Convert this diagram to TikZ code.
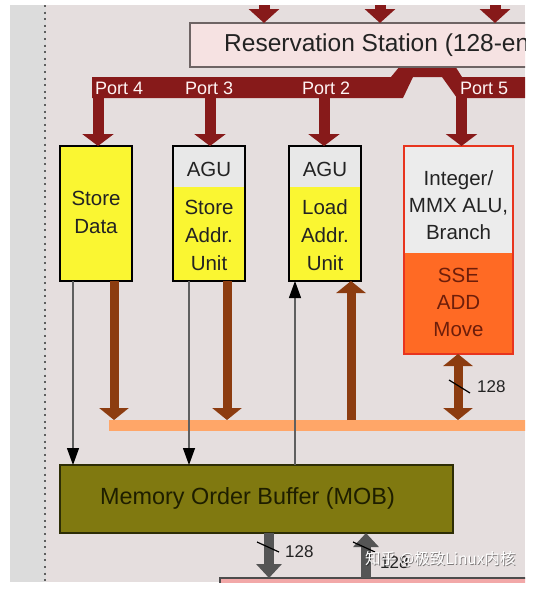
\documentclass[tikz,border=0pt]{standalone}
\usepackage{fontspec}
\setmainfont{Liberation Sans}
\newfontfamily\cjkfont{Noto Sans CJK SC}
\usetikzlibrary{arrows.meta}

\definecolor{bgmain}{RGB}{229,222,222}
\definecolor{bgleft}{RGB}{220,220,220}
\definecolor{portred}{RGB}{135,26,26}
\definecolor{rsfill}{RGB}{246,226,226}
\definecolor{rsline}{RGB}{110,100,100}
\definecolor{yel}{RGB}{250,246,50}
\definecolor{agugray}{RGB}{232,232,232}
\definecolor{intred}{RGB}{232,52,30}
\definecolor{intgray}{RGB}{236,236,236}
\definecolor{sseor}{RGB}{255,106,36}
\definecolor{ssetext}{RGB}{110,30,10}
\definecolor{brownarr}{RGB}{140,60,16}
\definecolor{orbus}{RGB}{255,166,104}
\definecolor{mobfill}{RGB}{128,121,16}
\definecolor{mobline}{RGB}{45,45,5}
\definecolor{mobtext}{RGB}{30,30,0}
\definecolor{grayarr}{RGB}{85,85,85}
\definecolor{thinline}{RGB}{95,95,95}
\definecolor{pinkbox}{RGB}{242,168,168}
\definecolor{txtdark}{RGB}{35,35,35}
\definecolor{dotc}{RGB}{95,95,95}

\begin{document}
\begin{tikzpicture}[x=1pt,y=-1pt,
  part/.style={draw=none, inner sep=0pt, outer sep=0pt},
  ybox/.style={fill=yel, draw=black, line width=1.8pt, inner sep=0pt, outer sep=0pt},
  outline/.style={draw=black, line width=1.8pt, inner sep=0pt, outer sep=0pt},
  boxtxt/.style={inner sep=0pt, align=center, text=txtdark, font=\fontsize{20.5}{28}\selectfont},
  inttxt/.style={inner sep=0pt, align=center, text=txtdark, font=\fontsize{20.5}{27}\selectfont},
  portlbl/.style={inner sep=0pt, anchor=west, text=white!96!red, font=\fontsize{18}{20}\selectfont},
  portarrow/.style={draw=portred, line width=11pt, -{Triangle[width=31pt,length=12pt]}},
  toparrow/.style={draw=portred, line width=11pt, -{Triangle[width=30pt,length=14pt]}},
  brownarrow/.style={draw=brownarr, line width=9pt, -{Triangle[width=29pt,length=12pt]}},
  browndouble/.style={draw=brownarr, line width=9pt, {Triangle[width=29pt,length=12pt]}-{Triangle[width=29pt,length=12pt]}},
  thinarrow/.style={draw=thinline, line width=1.3pt, -{Triangle[width=12pt,length=17pt,color=black]}},
  grayarrow/.style={draw=grayarr, line width=10pt, -{Triangle[width=25pt,length=14pt]}},
  slash/.style={draw=black, line width=1.2pt},
  numlbl/.style={inner sep=0pt, text=txtdark, font=\fontsize{17}{20}\selectfont},
]
\useasboundingbox (0,0) rectangle (533,589);
\fill[white] (0,0) rectangle (533,589);
\begin{scope}
\clip (10,5) rectangle (525,582);
\fill[bgleft] (10,5) rectangle (46,582);
\fill[bgmain] (46,5) rectangle (525,582);
\draw[dotc, line width=2pt, dash pattern=on 2pt off 4.6pt] (45,5) -- (45,582);

% port bus
\fill[portred] (92,77) -- (391,77) -- (400,66) -- (455,66) -- (462,77) -- (525,77)
  -- (525,98) -- (457,98) -- (442,77) -- (413,77) -- (403,98) -- (92,98) -- cycle;

% Reservation station
\node[part, fill=rsfill, draw=rsline, line width=1.5pt, minimum width=420pt, minimum height=44pt, anchor=north west] (rs) at (190,23) {};
\node[anchor=west, inner sep=0pt, text=txtdark, font=\fontsize{24.5}{28}\selectfont] (rst) at (224,45) {Reservation Station (128-entry)};

% arrows into RS
\coordinate (t1) at (264,0);
\coordinate (t2) at (380,0);
\coordinate (t3) at (495,0);
\draw[toparrow] (t1) -- (t1 |- rs.north);
\draw[toparrow] (t2) -- (t2 |- rs.north);
\draw[toparrow] (t3) -- (t3 |- rs.north);

% Store Data
\node[ybox, minimum width=72pt, minimum height=135pt] (sd) at (96,213.5) {};
\node[boxtxt] (sdt) at (96,212.5) {Store\\Data};

% Store Addr
\node[part, fill=agugray, minimum width=72pt, minimum height=41pt, anchor=north] (saagu) at (209,146) {};
\node[part, fill=yel, minimum width=72pt, minimum height=94pt, anchor=north] (saunit) at (209,187) {};
\node[outline, minimum width=72pt, minimum height=135pt] (sa) at (209,213.5) {};
\node[boxtxt] (saagut) at (209,169) {AGU};
\node[boxtxt] (saut) at (209,235) {Store\\Addr.\\Unit};

% Load Addr
\node[part, fill=agugray, minimum width=72pt, minimum height=41pt, anchor=north] (laagu) at (325,146) {};
\node[part, fill=yel, minimum width=72pt, minimum height=94pt, anchor=north] (launit) at (325,187) {};
\node[outline, minimum width=72pt, minimum height=135pt] (la) at (325,213.5) {};
\node[boxtxt] (laagut) at (325,169) {AGU};
\node[boxtxt] (laut) at (325,235) {Load\\Addr.\\Unit};

% Integer / SSE
\node[part, fill=intgray, minimum width=109pt, minimum height=107pt, anchor=north] (intt) at (458.5,146) {};
\node[part, fill=sseor, minimum width=109pt, minimum height=101pt, anchor=north] (intb) at (458.5,253) {};
\node[outline, draw=intred, minimum width=109pt, minimum height=208pt] (int) at (458.5,250) {};
\node[inttxt] (inttt) at (458.5,205) {Integer/\\MMX ALU,\\Branch};
\node[inttxt, text=ssetext] (intbt) at (458.5,302) {SSE\\ADD\\Move};

% port arrows
\coordinate (p4) at (98,90);
\coordinate (p3) at (210,90);
\coordinate (p2) at (324,90);
\coordinate (p5) at (461.5,90);
\draw[portarrow] (p4) -- (p4 |- sd.north);
\draw[portarrow] (p3) -- (p3 |- sa.north);
\draw[portarrow] (p2) -- (p2 |- la.north);
\draw[portarrow] (p5) -- (p5 |- int.north);
\node[portlbl] (l4) at (95,88) {Port 4};
\node[portlbl] (l3) at (185,88) {Port 3};
\node[portlbl] (l2) at (302,88) {Port 2};
\node[portlbl] (l5) at (460,88) {Port 5};

% orange bus
\node[part, fill=orbus, minimum width=430pt, minimum height=11pt, anchor=west] (obus) at (109,425.5) {};

% MOB
\node[part, fill=mobfill, draw=mobline, line width=1.8pt, minimum width=393pt, minimum height=68pt] (mob) at (256.5,499) {};
\node[inner sep=0pt, text=mobtext, font=\fontsize{23.4}{28}\selectfont] (mobt) at (247.5,498) {Memory Order Buffer (MOB)};

% bottom box
\node[part, fill=pinkbox, draw=black!70, line width=1.5pt, minimum width=420pt, minimum height=40pt, anchor=north west] (l1) at (220,578) {};

% brown arrows to/from bus
\draw[brownarrow] ([xshift=18pt]sd.south) -- ([xshift=18pt]sd.south |- obus.north);
\draw[brownarrow] ([xshift=18pt]sa.south) -- ([xshift=18pt]sa.south |- obus.north);
\draw[brownarrow] ([xshift=26pt]la.south |- obus.north) -- ([xshift=26pt]la.south);
\draw[browndouble] ([xshift=-0.5pt]int.south) -- ([xshift=-0.5pt]int.south |- obus.north);
\draw[slash] (449,380) -- (470,393);
\node[numlbl, anchor=west] (n1) at (477,387) {128};

% thin arrows
\draw[thinarrow] ([xshift=-23pt]sd.south) -- ([xshift=-23pt]sd.south |- mob.north);
\draw[thinarrow] ([xshift=-20pt]sa.south) -- ([xshift=-20pt]sa.south |- mob.north);
\draw[thinarrow] ([xshift=-30pt]la.south |- mob.north) -- ([xshift=-30pt]la.south);

% gray arrows MOB <-> below
\draw[grayarrow] ([xshift=12.5pt]mob.south) -- ([xshift=12.5pt]mob.south |- l1.north);
\draw[grayarrow] ([xshift=109.5pt]mob.south |- l1.north) -- ([xshift=109.5pt]mob.south);
\draw[slash] (257,542) -- (279,552);
\draw[slash] (353,542) -- (375,552);
\node[numlbl, anchor=west] (n2) at (285,552) {128};
\node[numlbl, anchor=west] (n3) at (380,563) {128};

% watermark
\node[anchor=west, inner sep=0pt, text=black, opacity=0.45, font=\cjkfont\fontsize{15.5}{18}\selectfont] (wms) at (365.8,559.8) {知乎 @极致Linux内核};
\node[anchor=west, inner sep=0pt, text=white, font=\cjkfont\fontsize{15.5}{18}\selectfont] (wm) at (365,559) {知乎 @极致Linux内核};
\end{scope}
\end{tikzpicture}
\end{document}
